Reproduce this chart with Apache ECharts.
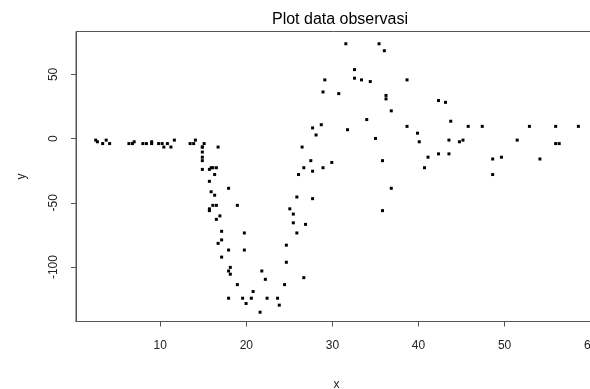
<!DOCTYPE html>
<html>
<head>
<meta charset="utf-8">
<script src="https://cdn.jsdelivr.net/npm/echarts@6/dist/echarts.min.js"></script>
<style>html,body{margin:0;padding:0;background:#fff;}#c{width:590px;height:389px;}</style>
</head>
<body>
<div id="c"></div>
<script>
const titleText = 'Plot data observasi';
const xName = 'x';
const yName = 'y';
const xTicks = [10, 20, 30, 40, 50, 60];
const yTicks = [-100, -50, 0, 50];
const xObs = [2.44,2.64,3.25,3.66,4.06,6.3,6.71,6.91,7.92,8.33,8.94,8.94,9.75,10.16,10.36,10.77,11.18,11.58,13.41,13.82,14.02,14.83,14.83,14.83,14.83,14.83,14.83,15.04,15.65,15.65,15.65,15.65,15.85,15.85,16.05,16.05,16.26,16.26,16.46,16.46,16.46,16.66,16.66,16.87,17.07,17.07,17.07,17.88,17.88,17.88,17.88,18.08,18.08,18.9,18.9,19.51,19.71,19.71,19.91,20.52,20.73,21.54,21.74,22.15,22.35,23.57,23.77,24.38,24.59,24.59,24.99,25.4,25.4,25.81,25.81,26.01,26.42,26.62,26.62,26.82,27.43,27.64,27.64,27.64,28.04,28.65,28.85,28.85,29.06,29.87,30.68,31.5,31.7,32.51,32.51,33.32,33.93,34.34,34.95,35.36,35.76,35.76,35.97,36.17,36.17,36.78,36.78,38.61,38.61,39.83,40.03,40.64,41.05,42.27,42.27,43.08,43.48,43.48,43.69,44.7,45.11,45.72,47.35,48.56,48.56,49.58,51.41,52.83,54.05,55.88,55.88,56.29,58.52];
const yObs = [0.0,-1.3,-2.7,0.0,-2.7,-2.7,-2.7,-1.3,-2.7,-2.7,-1.3,-2.7,-2.7,-2.7,-5.4,-2.7,-5.4,0.0,-2.7,-2.7,0.0,-13.3,-5.4,-5.4,-9.3,-16.0,-22.8,-2.7,-22.8,-32.1,-53.5,-54.9,-40.2,-21.5,-21.5,-50.8,-42.9,-26.8,-21.5,-50.8,-61.7,-5.4,-80.4,-59.0,-71.0,-91.1,-77.7,-37.5,-85.6,-123.1,-101.9,-99.1,-104.4,-112.5,-50.8,-123.1,-85.6,-72.3,-127.2,-123.1,-117.9,-134.0,-101.9,-108.4,-123.1,-123.1,-128.5,-112.5,-95.1,-81.8,-53.5,-64.4,-57.6,-72.3,-44.3,-26.8,-5.4,-107.1,-21.5,-65.6,-16.0,-45.6,-24.2,9.5,4.0,12.0,-21.5,37.5,46.9,-17.4,36.2,75.0,8.1,54.9,48.2,46.9,16.0,45.6,1.3,75.0,-16.0,-54.9,69.6,34.8,32.1,-37.5,22.8,46.9,10.7,5.4,-1.3,-21.5,-13.3,30.8,-10.7,29.4,0.0,-10.7,14.7,-1.3,0.0,10.7,10.7,-26.8,-14.7,-13.3,0.0,10.7,-14.7,-2.7,10.7,-2.7,10.7];

const points = xObs.map((x, i) => [x, yObs[i]]);
const FONT = '"Liberation Sans", Arial, sans-serif';
const AXIS_COLOR = '#555';
const chart = echarts.init(document.getElementById('c'), null, {renderer: 'canvas'});
chart.setOption({
  animation: false,
  backgroundColor: '#fff',
  title: {
    text: titleText,
    left: 335,
    top: 7,
    textAlign: 'center',
    textStyle: {fontFamily: FONT, fontSize: 16, fontWeight: 'normal', color: '#000'}
  },
  grid: {
    left: 76, top: 31.5, right: -7, bottom: 67.5,
    show: true, borderColor: AXIS_COLOR, borderWidth: 1, backgroundColor: 'transparent',
    containLabel: false,
    outerBoundsMode: 'none'
  },
  xAxis: {
    type: 'value', min: 0.21, max: 60.74,
    name: xName, nameLocation: 'middle', nameGap: 57,
    nameTextStyle: {fontFamily: FONT, fontSize: 12, color: '#222'},
    splitLine: {show: false},
    axisLine: {show: true, onZero: false, lineStyle: {color: AXIS_COLOR, width: 1}},
    axisTick: {show: true, inside: false, length: 5, lineStyle: {color: AXIS_COLOR}, customValues: xTicks},
    axisLabel: {show: true, margin: 18, fontFamily: FONT, fontSize: 12, color: '#222', customValues: xTicks, showMinLabel: true, showMaxLabel: true}
  },
  yAxis: {
    type: 'value', min: -142.4, max: 83.4,
    name: yName, nameLocation: 'middle', nameGap: 48, nameRotate: 90,
    nameTextStyle: {fontFamily: FONT, fontSize: 12, color: '#222'},
    splitLine: {show: false},
    axisLine: {show: true, onZero: false, lineStyle: {color: AXIS_COLOR, width: 1}},
    axisTick: {show: true, inside: false, length: 5, lineStyle: {color: AXIS_COLOR}, customValues: yTicks},
    axisLabel: {show: true, margin: 16, rotate: 90, fontFamily: FONT, fontSize: 12, color: '#222', customValues: yTicks}
  },
  series: [{
    type: 'scatter',
    data: points,
    symbol: 'rect',
    symbolSize: 3,
    symbolOffset: [0.5, 1.5],
    itemStyle: {color: '#000', opacity: 1},
    emphasis: {disabled: true}
  }]
});
</script>
</body>
</html>
